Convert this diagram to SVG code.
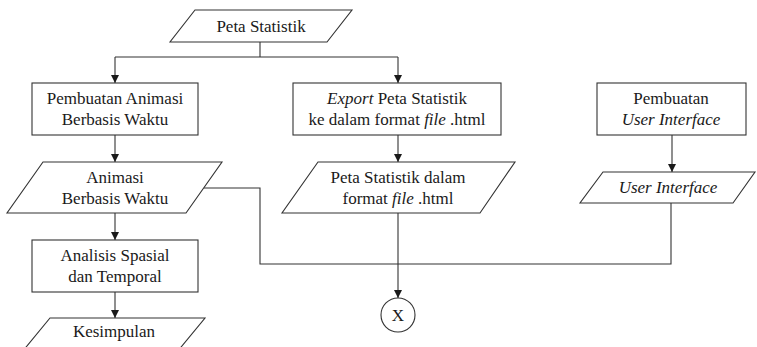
<svg xmlns="http://www.w3.org/2000/svg" width="757" height="347" viewBox="0 0 757 347">
<defs>
<marker id="arr" markerWidth="8" markerHeight="8" refX="8" refY="4" orient="auto" markerUnits="userSpaceOnUse">
<path d="M0,0 L8,4 L0,8 Z" fill="#1a1a1a"/>
</marker>
</defs>
<rect width="757" height="347" fill="#fff"/>
<g id="connectors" fill="none" stroke="#333" stroke-width="1.1">
<path d="M260,42 V57 M115,57 H398"/>
<path d="M115,57 V83" marker-end="url(#arr)"/>
<path d="M398,57 V83" marker-end="url(#arr)"/>
<path d="M115,135 V162" marker-end="url(#arr)"/>
<path d="M398,135 V162" marker-end="url(#arr)"/>
<path d="M672,135 V172" marker-end="url(#arr)"/>
<path d="M115,213 V240" marker-end="url(#arr)"/>
<path d="M115,292 V318" marker-end="url(#arr)"/>
<path d="M398,213 V298" marker-end="url(#arr)"/>
<path d="M204,188 H260 V264 H671 V203"/>
</g>
<g font-family="Liberation Serif" font-size="20" fill="#1a1a1a" text-anchor="middle">
<g id="peta-statistik">
<polygon fill="#fff" stroke="#333" stroke-width="1.1" points="195,10 352,10 327,42 170,42"/>
<text x="261" y="32" font-size="17">Peta Statistik</text>
</g>
<g id="pembuatan-animasi">
<rect fill="#fff" stroke="#333" stroke-width="1.1" x="32" y="83" width="166" height="52"/>
<text x="115" y="104" font-size="17">Pembuatan Animasi</text>
<text x="115" y="125" font-size="17">Berbasis Waktu</text>
</g>
<g id="export">
<rect fill="#fff" stroke="#333" stroke-width="1.1" x="293" y="83" width="208" height="52"/>
<text x="397" y="104" font-size="17"><tspan font-style="italic">Export</tspan> Peta Statistik</text>
<text x="397" y="125" font-size="17">ke dalam format <tspan font-style="italic">file</tspan> .html</text>
</g>
<g id="pembuatan-ui">
<rect fill="#fff" stroke="#333" stroke-width="1.1" x="597" y="83" width="149" height="52"/>
<text x="671" y="104" font-size="17">Pembuatan</text>
<text x="671" y="125" font-size="17" font-style="italic">User Interface</text>
</g>
<g id="animasi">
<polygon fill="#fff" stroke="#333" stroke-width="1.1" points="43,162 222,162 186,213 7,213"/>
<text x="115" y="183" font-size="17">Animasi</text>
<text x="115" y="204" font-size="17">Berbasis Waktu</text>
</g>
<g id="peta-html">
<polygon fill="#fff" stroke="#333" stroke-width="1.1" points="318,162 515,162 480,213 282,213"/>
<text x="398" y="183" font-size="17">Peta Statistik dalam</text>
<text x="398" y="204" font-size="17">format <tspan font-style="italic">file</tspan> .html</text>
</g>
<g id="user-interface">
<polygon fill="#fff" stroke="#333" stroke-width="1.1" points="603,172 755,172 733,203 580,203"/>
<text x="668" y="193" font-size="17" font-style="italic">User Interface</text>
</g>
<g id="analisis">
<rect fill="#fff" stroke="#333" stroke-width="1.1" x="32" y="240" width="166" height="52"/>
<text x="115" y="261" font-size="17">Analisis Spasial</text>
<text x="115" y="282" font-size="17">dan Temporal</text>
</g>
<g id="kesimpulan">
<polygon fill="#fff" stroke="#333" stroke-width="1.1" points="50,318 205,318 177,352 22,352"/>
<text x="114" y="337" font-size="17">Kesimpulan</text>
</g>
<g id="connector-x">
<circle fill="#fff" stroke="#333" stroke-width="1.1" cx="398" cy="315" r="17"/>
<text x="398" y="321" font-size="17">X</text>
</g>
</g>
</svg>
